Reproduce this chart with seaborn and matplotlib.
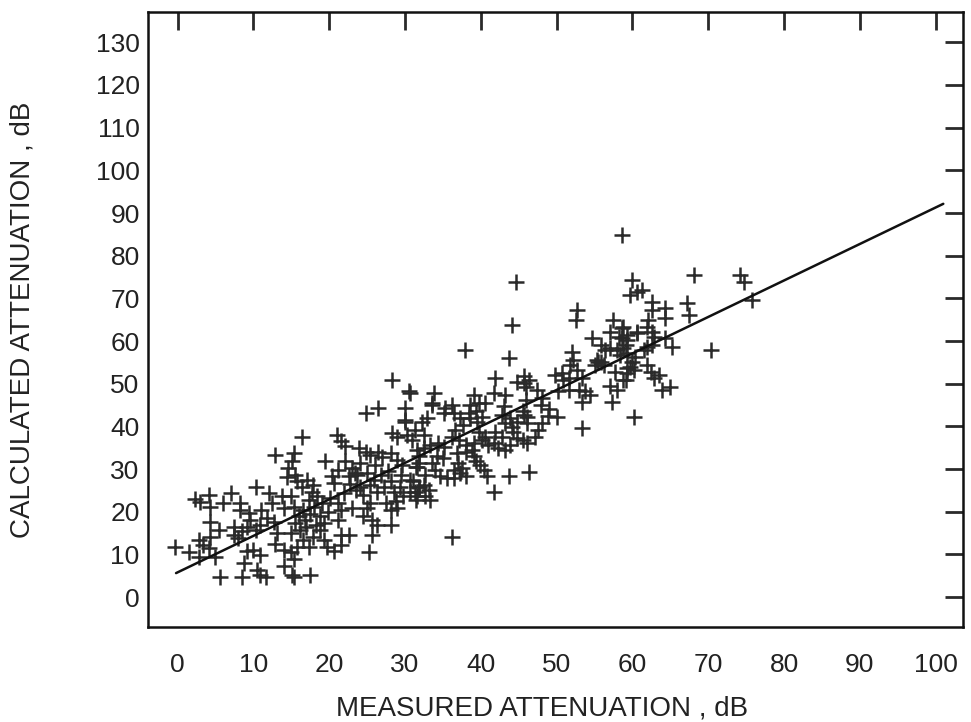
import numpy as np
import pandas as pd
import matplotlib
matplotlib.use("Agg")
import matplotlib.pyplot as plt
import seaborn as sns

# measured vs calculated attenuation (dB)
measured_db = [
    -0.3, 2.3, 3.0, 4.1, 4.3, 7.0, 10.3, 8.3, 4.3, 5.4,
    4.3, 2.8, 3.4, 4.1, 2.8, 5.0, 5.6, 8.5, 10.9, 11.6,
    8.7, 10.5, 14.0, 15.3, 10.0, 10.9, 9.2, 7.4, 7.4, 8.0,
    8.5, 9.2, 9.6, 10.3, 10.9, 8.3, 9.4, 12.0, 12.5, 13.8,
    14.0, 11.8, 12.7, 13.1, 14.0, 15.0, 15.3, 14.6, 14.4, 1.5,
    12.8, 11.0, 6.0, 12.8,
    16.4, 21.0, 21.5, 22.1, 15.3, 15.1, 19.5, 23.9, 24.8, 25.4,
    26.5, 26.9, 28.3, 28.9, 30.2, 30.9, 30.0, 28.1, 29.0, 29.6,
    22.1, 23.0, 23.4, 22.6, 20.4, 21.2, 20.6, 15.5, 15.7, 16.4,
    17.1, 17.9, 17.7, 18.4, 17.3, 14.9, 15.3, 16.0, 15.5, 14.9,
    16.2, 16.8, 16.6, 15.7, 17.3, 17.9, 18.8, 19.3, 19.7, 21.5,
    20.6, 19.3, 18.8, 21.2, 22.6, 21.5, 15.1, 17.5, 20.1, 21.2,
    21.5, 23.0, 24.1, 24.5, 25.4, 26.3, 25.4, 25.0, 24.5, 25.6,
    26.3, 25.6, 25.2, 28.1, 28.1, 29.0, 27.2, 28.1, 28.5, 29.4,
    29.8, 30.7, 31.4, 31.8, 30.7, 31.4, 31.8, 23.7, 25.0, 25.9,
    26.8, 17.0, 17.5, 18.0, 19.0, 16.5, 18.2, 19.8, 22.0, 23.5,
    22.8, 27.5, 28.8, 27.8, 29.5, 24.0, 26.0,
    28.3, 30.5, 24.9, 26.5, 30.0, 30.0, 30.7, 33.8, 33.5, 37.9,
    43.7, 44.1, 44.6, 36.2, 41.7, 43.7, 46.3, 50.0, 53.3, 54.7,
    55.5,
    41.9, 41.7, 43.2, 44.8, 45.7, 45.9, 33.6, 35.3, 36.2, 36.4,
    35.1, 39.1, 38.6, 39.7, 40.6, 39.3, 38.6, 38.4, 39.5, 40.2,
    37.3, 37.7, 36.6, 36.2, 32.2, 32.9, 31.3, 32.5, 43.0, 42.8,
    43.9, 44.8, 44.1, 43.2, 45.6, 46.1, 41.9, 42.8, 41.7, 42.3,
    43.2, 43.9, 44.8, 45.6, 44.3, 39.7, 40.2, 38.8, 39.1, 41.0,
    40.6, 37.1, 38.0, 36.9, 38.0, 39.1, 39.3, 39.9, 40.4, 40.8,
    36.4, 37.3, 37.5, 38.0, 35.5, 36.4, 31.6, 31.8, 32.5, 33.3,
    34.4, 35.1, 31.6, 32.7, 34.0, 33.6, 34.6, 31.1, 31.8, 31.3,
    32.5, 33.1, 32.7, 33.3, 31.6, 35.0, 34.2, 37.0,
    59.7, 52.7, 52.5, 57.5, 57.1, 58.6, 59.3, 58.2, 59.3, 60.6,
    55.8, 56.4, 57.1, 57.9, 58.8, 59.3, 58.4, 55.3, 55.9, 55.1,
    56.2, 60.4, 59.9, 59.3, 60.2, 52.0, 52.2, 51.8, 52.7, 49.8,
    50.7, 50.9, 51.6, 45.7, 46.3, 53.3, 52.9, 53.8, 53.3, 54.4,
    51.6, 50.2, 57.7, 57.1, 57.9, 57.3, 59.1, 47.4, 48.1, 47.9,
    45.9, 45.7, 46.1, 48.1, 47.6, 47.2, 46.1, 60.2, 49.0, 48.8,
    58.6, 59.9, 60.6, 61.3, 68.1, 74.2, 74.7, 75.8, 62.6, 62.6,
    64.3, 64.3, 67.2, 67.4, 62.1, 61.9, 62.6, 62.8, 58.8, 60.6,
    58.6, 59.1, 61.9, 62.6, 64.3, 65.2, 61.5, 70.3, 59.7, 59.3,
    58.8, 61.9, 62.4, 63.5, 62.8, 63.9, 65.0,
]
calculated_db = [
    11.8, 23.0, 22.4, 24.0, 21.2, 24.4, 25.8, 22.0, 17.7, 15.8,
    14.2, 13.4, 12.2, 11.5, 9.5, 9.5, 4.8, 4.8, 5.2, 4.8,
    8.0, 6.4, 7.3, 4.8, 11.1, 9.9, 10.7, 16.5, 14.6, 13.8,
    15.4, 16.5, 18.1, 15.8, 17.0, 20.4, 19.7, 24.4, 22.0, 23.6,
    20.8, 18.5, 17.7, 15.0, 11.1, 10.5, 8.9, 30.2, 28.2, 10.5,
    12.5, 20.5, 22.0, 33.2,
    37.6, 38.0, 36.5, 35.4, 33.7, 31.8, 31.8, 34.9, 34.1, 33.3,
    34.1, 32.9, 38.4, 37.6, 38.0, 36.8, 41.1, 33.7, 32.2, 31.0,
    31.8, 30.2, 29.0, 28.3, 28.3, 29.8, 26.7, 28.6, 27.1, 25.9,
    27.4, 26.3, 24.7, 23.6, 22.8, 23.6, 21.2, 18.9, 17.3, 15.0,
    15.8, 18.1, 20.4, 11.8, 11.8, 14.2, 15.8, 13.4, 11.8, 12.3,
    10.8, 17.3, 18.9, 18.1, 14.6, 14.6, 5.2, 5.2, 23.2, 22.0,
    20.4, 20.8, 25.9, 23.9, 26.3, 24.7, 22.0, 20.8, 18.9, 18.1,
    16.9, 14.6, 10.6, 16.9, 20.4, 20.8, 25.9, 27.1, 24.7, 25.9,
    23.6, 24.7, 22.8, 25.9, 27.4, 30.6, 31.4, 28.6, 29.0, 27.4,
    28.6, 16.5, 19.5, 21.0, 22.0, 13.5, 17.0, 20.0, 24.5, 25.0,
    26.5, 22.0, 22.5, 29.5, 28.5, 31.5, 31.0,
    50.9, 48.2, 43.1, 44.3, 44.3, 41.5, 47.8, 47.8, 45.4, 57.9,
    56.0, 63.8, 73.9, 14.2, 24.7, 28.3, 29.4, 42.3, 39.6, 60.6,
    55.2,
    51.3, 47.8, 47.4, 50.5, 51.7, 49.3, 45.1, 44.3, 45.1, 43.1,
    43.1, 47.4, 45.1, 45.5, 45.5, 43.5, 41.9, 43.1, 41.1, 42.3,
    41.9, 40.3, 39.2, 37.6, 41.1, 41.9, 39.2, 38.0, 44.7, 42.7,
    41.9, 41.1, 39.9, 40.7, 43.5, 42.3, 38.8, 37.6, 36.0, 34.9,
    34.5, 35.7, 37.2, 36.8, 38.8, 38.8, 36.8, 34.5, 36.0, 35.7,
    37.6, 36.8, 35.7, 33.7, 34.1, 33.0, 31.8, 31.0, 29.8, 28.3,
    29.8, 29.0, 30.2, 28.3, 28.0, 28.0, 34.5, 33.0, 34.9, 35.7,
    36.0, 35.2, 30.6, 28.6, 29.8, 31.4, 28.3, 27.1, 25.9, 24.7,
    26.3, 25.2, 23.6, 22.8, 23.6, 32.5, 33.0, 31.5,
    70.8, 67.3, 65.0, 65.0, 62.2, 63.0, 61.4, 61.0, 60.3, 62.2,
    59.1, 57.9, 58.3, 57.9, 58.3, 57.1, 56.7, 55.6, 55.2, 54.4,
    54.4, 56.3, 55.2, 53.6, 53.2, 57.5, 55.6, 54.4, 53.2, 52.1,
    52.4, 50.9, 51.3, 50.1, 50.9, 51.3, 48.6, 48.2, 45.8, 47.4,
    48.6, 48.2, 52.8, 49.4, 48.6, 45.8, 50.9, 48.6, 46.6, 45.1,
    46.2, 42.7, 40.7, 40.7, 39.2, 37.6, 36.0, 42.3, 44.0, 42.5,
    84.9, 74.3, 71.6, 72.0, 75.5, 75.5, 73.9, 69.6, 69.2, 67.3,
    67.7, 65.3, 68.8, 66.1, 64.9, 63.4, 62.2, 61.0, 63.4, 61.8,
    60.6, 59.1, 58.7, 59.1, 60.6, 58.7, 57.9, 57.9, 54.0, 52.4,
    50.9, 54.4, 52.8, 52.1, 51.3, 48.5, 49.3,
]

# regression line
fit_range = [-0.2, 101.0]
fit_intercept = 5.8
fit_slope = 0.855

x_ticks = list(range(0, 101, 10))
y_ticks = list(range(0, 131, 10))

df = pd.DataFrame({"measured": measured_db, "calculated": calculated_db})
fit_x = np.array(fit_range)
fit_df = pd.DataFrame({"x": fit_x, "y": fit_intercept + fit_slope * fit_x})

sns.set_style("white")
plt.rcParams["font.family"] = ["Liberation Sans", "DejaVu Sans"]

fig = plt.figure(figsize=(9.71, 7.22), dpi=100)
ax = fig.add_axes([148 / 971, 1 - 627 / 722, 815 / 971, 615 / 722])

ink = "#2a2a2a"
sns.scatterplot(data=df, x="measured", y="calculated", marker="+", s=140,
                color=ink, linewidth=1.8, ax=ax, legend=False)
sns.lineplot(data=fit_df, x="x", y="y", color="#111111", linewidth=1.8, ax=ax)

ax.set_xlim(-3.9, 103.6)
ax.set_ylim(-7.0, 137.1)
ax.set_xticks(x_ticks)
ax.set_yticks(y_ticks)
ax.tick_params(direction="in", top=True, right=True, length=13, width=2,
               color=ink, labelsize=19, labelcolor="#222222")
ax.tick_params(axis="x", pad=19)
ax.tick_params(axis="y", pad=6)

for side in ax.spines.values():
    side.set_linewidth(1.8)
    side.set_color("#111111")

ax.set_xlabel("MEASURED ATTENUATION , dB", fontsize=20, color="#222222")
ax.set_ylabel("CALCULATED ATTENUATION , dB", fontsize=20, color="#222222")
ax.xaxis.set_label_coords(0.483, -0.112)
ax.yaxis.set_label_coords(-0.138, 0.5)

fig.savefig("out.png", dpi=100)
